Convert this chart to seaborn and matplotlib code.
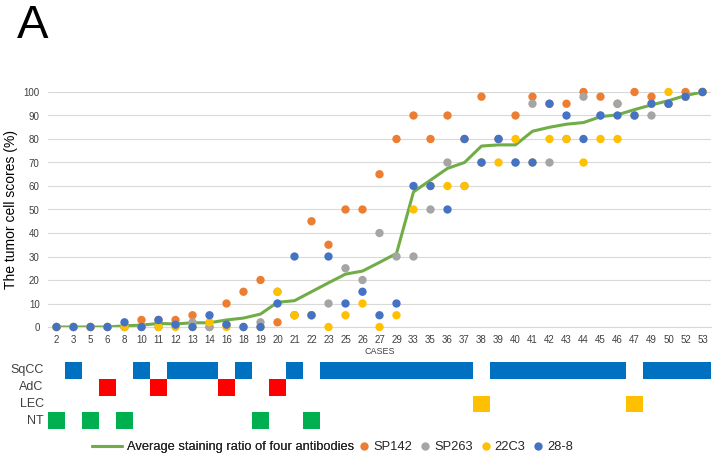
# chart: tumor cell scores per case, four antibodies + average line, histology strip below

import numpy as np
import pandas as pd
import matplotlib
matplotlib.use('Agg')
import matplotlib.pyplot as plt
from matplotlib.colors import ListedColormap
from matplotlib.lines import Line2D
import seaborn as sns

# DATA

cases = [2, 3, 5, 6, 8, 10, 11, 12, 13, 14, 16, 18, 19, 20, 21, 22, 23, 25, 26, 27,
         29, 33, 35, 36, 37, 38, 39, 40, 41, 42, 43, 44, 45, 46, 47, 49, 50, 52, 53]

sp142 = [0, 0, 0, 0, 0, 3, 3, 3, 5, 0, 10, 15, 20, 2, 5, 45, 35, 50, 50, 65,
         80, 90, 80, 90, 80, 98, 80, 90, 98, 95, 95, 100, 98, 95, 100, 98, 95, 100, 100]
sp263 = [0, 0, 0, 0, 0, 0, 0, 1, 2, 0, 1, 0, 2, 15, 5, 5, 10, 25, 20, 40,
         30, 30, 50, 70, 60, 70, 80, 70, 95, 70, 80, 98, 90, 95, 90, 90, 95, 98, 100]
c22c3 = [0, 0, 0, 0, 0, 0, 0, 0, 0, 2, 0, 0, 0, 15, 5, 5, 0, 5, 10, 0,
         5, 50, 60, 60, 60, 70, 70, 80, 70, 80, 80, 70, 80, 80, 90, 95, 100, 98, 100]
c288 = [0, 0, 0, 0, 2, 0, 3, 1, 0, 5, 1, 0, 0, 10, 30, 5, 30, 10, 15, 5,
        10, 60, 60, 50, 80, 70, 80, 70, 70, 95, 90, 80, 90, 90, 90, 95, 95, 98, 100]

average = [0, 0, 0, 0, 0.5, 0.8, 1.5, 1.3, 1.8, 1.8, 3, 3.8, 5.5, 10.5, 11.2, 15, 18.8, 22.5, 23.8, 27.5,
           31.3, 57.5, 62.5, 67.5, 70, 77, 77.5, 77.5, 83.3, 85, 86.3, 87, 89.5, 90.3, 92.5, 94.5, 96.3, 98.5, 100]

histology = ['NT', 'SqCC', 'NT', 'AdC', 'NT', 'SqCC', 'AdC', 'SqCC', 'SqCC', 'SqCC',
             'AdC', 'SqCC', 'NT', 'AdC', 'SqCC', 'NT', 'SqCC', 'SqCC', 'SqCC', 'SqCC',
             'SqCC', 'SqCC', 'SqCC', 'SqCC', 'SqCC', 'LEC', 'SqCC', 'SqCC', 'SqCC', 'SqCC',
             'SqCC', 'SqCC', 'SqCC', 'SqCC', 'LEC', 'SqCC', 'SqCC', 'SqCC', 'SqCC']
hist_types = ['SqCC', 'AdC', 'LEC', 'NT']

antibodies = ['SP142', 'SP263', '22C3', '28-8']

# STYLE

sns.set_style('white')
plt.rcParams['font.family'] = ['Liberation Sans', 'DejaVu Sans']

ab_colors = {'SP142': '#ED7D31', 'SP263': '#A5A5A5', '22C3': '#FFC000', '28-8': '#4472C4'}
hist_colors = ['#0070C0', '#FF0000', '#FFC000', '#00B050']
line_color = '#70AD47'
txt_color = '#404040'

# long form table
labels = [str(c) for c in cases]
df = pd.DataFrame({'case': labels * 4,
                   'score': sp142 + sp263 + c22c3 + c288,
                   'antibody': np.repeat(antibodies, len(cases))})
avg_df = pd.DataFrame({'case': labels, 'score': average})

W, H = 716, 465
fig = plt.figure(figsize=(W / 100, H / 100), dpi=100)

# main panel
left, right = 48, 711
ax = fig.add_axes([left / W, 1 - 327 / H, (right - left) / W, (327 - 92) / H])

sns.lineplot(data=avg_df, x='case', y='score', color=line_color, lw=2.2,
             sort=False, ax=ax, zorder=2)
sns.scatterplot(data=df, x='case', y='score', hue='antibody', hue_order=antibodies,
                palette=ab_colors, s=36, edgecolor='none', linewidth=0,
                legend=False, ax=ax, zorder=3, clip_on=False)

ax.set_xlim(-0.5, len(cases) - 0.5)
ax.set_ylim(0, 100)
ax.set_yticks(range(0, 101, 10))
ax.yaxis.grid(True, color='#D9D9D9', lw=0.8)
ax.set_axisbelow(True)
for s in ['top', 'right', 'left']:
    ax.spines[s].set_visible(False)
ax.spines['bottom'].set_color('#D9D9D9')
ax.set_xticks(range(len(cases)))
ax.set_xticklabels(labels)
ax.set_xticks(np.arange(-0.5, len(cases), 1), minor=True)
ax.tick_params(axis='x', which='major', length=0, labelsize=7, colors=txt_color, pad=6)
ax.tick_params(axis='x', which='minor', length=4, color='#D9D9D9', direction='out')
ax.tick_params(axis='y', length=0, labelsize=7, colors=txt_color, pad=6)
ax.set_xlabel('CASES', fontsize=6.5, color=txt_color, labelpad=1)
ax.set_ylabel('The tumor cell scores (%)', fontsize=10, color='black')
ax.yaxis.set_label_coords((18 - left) / (right - left), 0.5)

# histology strip
ax2 = fig.add_axes([left / W, 1 - 429 / H, (right - left) / W, (429 - 362) / H])
mat = np.full((len(hist_types), len(cases)), np.nan)
for j, h in enumerate(histology):
    i = hist_types.index(h)
    mat[i, j] = i
sns.heatmap(mat, cmap=ListedColormap(hist_colors), vmin=-0.5, vmax=3.5,
            cbar=False, linewidths=0, ax=ax2, xticklabels=False, yticklabels=hist_types)
ax2.tick_params(axis='y', length=0, labelsize=9, colors=txt_color, rotation=0, pad=3)
ax2.set_xlabel('')
ax2.set_ylabel('')

# panel letter
fig.text(17 / W, 1 - 38 / H, 'A', fontsize=34, color='black', ha='left', va='baseline')

# legend: line entry and marker entries laid out separately
line_leg = fig.legend([Line2D([0], [0], color=line_color, lw=2.2)],
                      ['Average staining ratio of four antibodies'],
                      loc='center left', bbox_to_anchor=(92 / W, 1 - 447 / H),
                      frameon=False, fontsize=9.3, handlelength=2.3, handletextpad=0.4,
                      borderpad=0, borderaxespad=0)
dots = [Line2D([0], [0], marker='o', ls='none', markersize=6,
               markerfacecolor=ab_colors[ab], markeredgecolor='none') for ab in antibodies]
fig.legend(dots, antibodies, loc='center left', bbox_to_anchor=(359 / W, 1 - 447 / H),
           ncol=4, frameon=False, fontsize=9.3, handlelength=0.8, handletextpad=0.3,
           columnspacing=0.6, borderpad=0, borderaxespad=0)
fig.add_artist(line_leg)

fig.savefig('out.png', dpi=100)
